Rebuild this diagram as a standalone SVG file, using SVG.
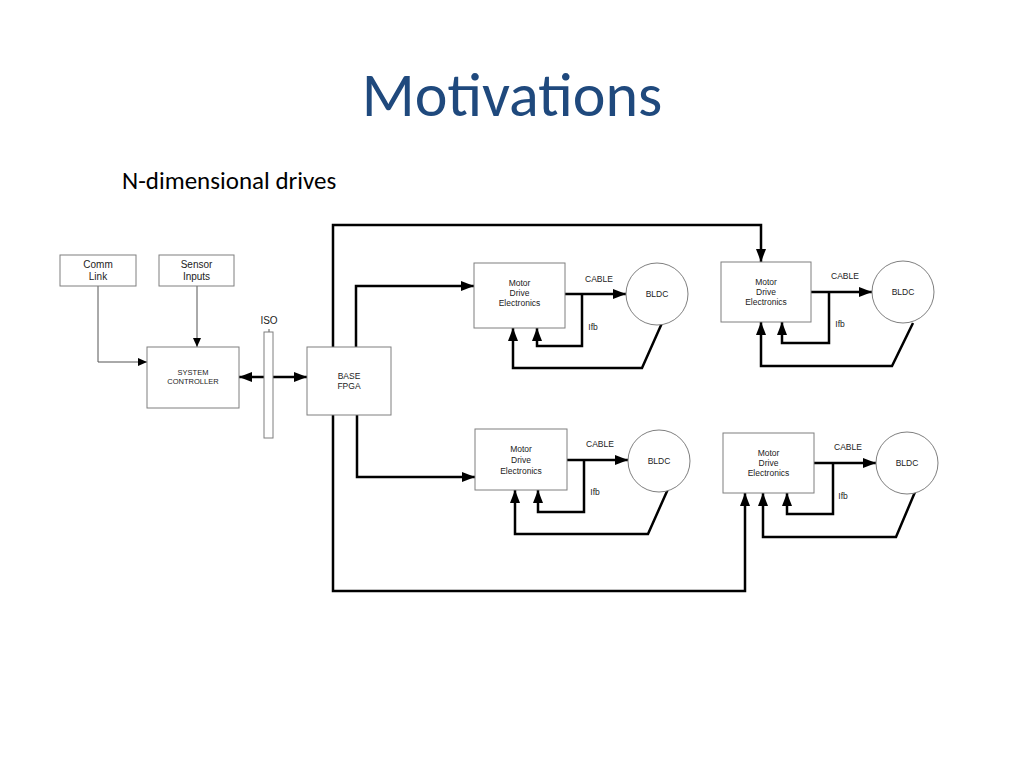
<svg xmlns="http://www.w3.org/2000/svg" width="1024" height="768" viewBox="0 0 1024 768">
<defs>
<marker id="ah" markerUnits="userSpaceOnUse" markerWidth="14" markerHeight="10" refX="13" refY="5" orient="auto-start-reverse"><path d="M0,0 L13,5 L0,10 Z" fill="#000"/></marker>
<marker id="ahs" markerUnits="userSpaceOnUse" markerWidth="10" markerHeight="8" refX="9" refY="4" orient="auto"><path d="M0,0 L9,4 L0,8 Z" fill="#000"/></marker>
</defs>
<style>
.box{fill:#fff;stroke:#7f7f7f;stroke-width:1}
.t{font-family:"Liberation Sans",Arial,sans-serif;fill:#222;text-anchor:middle}
.s9{font-size:8.5px}
.thick{fill:none;stroke:#000;stroke-width:2.5}
.thin{fill:none;stroke:#555;stroke-width:1}
</style>
<rect width="1024" height="768" fill="#fff"/>
<text x="512" y="116" font-family="Calibri,Carlito,'Liberation Sans',sans-serif" font-size="62" fill="#1F497D" text-anchor="middle">Motivations</text>
<text x="122" y="189" font-family="Calibri,Carlito,'Open Sans','Liberation Sans',sans-serif" font-size="25" fill="#000">N-dimensional drives</text>

<g id="connectors">
<path class="thin" d="M98,286 V362 H147" marker-end="url(#ahs)"/>
<path class="thin" d="M197,286 V347" marker-end="url(#ahs)"/>
<path class="thick" d="M239,377 H307" marker-start="url(#ah)" marker-end="url(#ah)"/>
<path class="thin" d="M269,329 V332"/>
<path class="thick" d="M333,347 V225 H761 V262" marker-end="url(#ah)"/>
<path class="thick" d="M356,347 V286 H474" marker-end="url(#ah)"/>
<path class="thick" d="M357,415 V477 H475" marker-end="url(#ah)"/>
<path class="thick" d="M333,415 V591 H745 V493" marker-end="url(#ah)"/>
<path class="thick" d="M565,294 H626" marker-end="url(#ah)"/>
<path class="thick" d="M582,294 V346 H537 V328" marker-end="url(#ah)"/>
<path class="thick" d="M662,323 L642,368 H513 V328" marker-end="url(#ah)"/>
<path class="thick" d="M811,292 H872" marker-end="url(#ah)"/>
<path class="thick" d="M829,292 V343 H782 V322" marker-end="url(#ah)"/>
<path class="thick" d="M913,323 L892,366 H761 V322" marker-end="url(#ah)"/>
<path class="thick" d="M567,460 H628" marker-end="url(#ah)"/>
<path class="thick" d="M584,460 V512 H538 V490" marker-end="url(#ah)"/>
<path class="thick" d="M668,489 L648,534 H515 V490" marker-end="url(#ah)"/>
<path class="thick" d="M814,463 H876" marker-end="url(#ah)"/>
<path class="thick" d="M833,463 V514 H787 V493" marker-end="url(#ah)"/>
<path class="thick" d="M915,492 L896,537 H763 V493" marker-end="url(#ah)"/>
</g>

<g id="comm-link"><rect class="box" x="60" y="255" width="76" height="31"/><text class="t" x="98" y="268" font-size="10">Comm</text><text class="t" x="98" y="280" font-size="10">Link</text></g>
<g id="sensor-inputs"><rect class="box" x="159" y="255" width="75" height="31"/><text class="t" x="196.5" y="268" font-size="10">Sensor</text><text class="t" x="196.5" y="280" font-size="10">Inputs</text></g>
<g id="system-controller"><rect class="box" x="147" y="347" width="92" height="61"/><text class="t" x="193" y="375" font-size="7.5">SYSTEM</text><text class="t" x="193" y="384" font-size="7.5">CONTROLLER</text></g>
<g id="iso"><rect class="box" x="264" y="332" width="9" height="106"/><text class="t" x="269" y="324" font-size="10">ISO</text></g>
<g id="base-fpga"><rect class="box" x="307" y="347" width="84" height="68"/><text class="t" x="349" y="379" font-size="8.5">BASE</text><text class="t" x="349" y="389" font-size="8.5">FPGA</text></g>

<g id="mde1"><rect class="box" x="474" y="263" width="91" height="65"/><text class="t s9" x="519.5" y="286">Motor</text><text class="t s9" x="519.5" y="296">Drive</text><text class="t s9" x="519.5" y="306">Electronics</text><text class="t s9" x="599" y="282">CABLE</text><text class="t s9" x="593" y="330">Ifb</text></g>
<g id="bldc1"><circle cx="657" cy="294" r="31" fill="#fff" stroke="#7f7f7f"/><text class="t s9" x="657" y="297">BLDC</text></g>

<g id="mde3"><rect class="box" x="721" y="262" width="90" height="60"/><text class="t s9" x="766" y="285">Motor</text><text class="t s9" x="766" y="295">Drive</text><text class="t s9" x="766" y="305">Electronics</text><text class="t s9" x="845" y="279">CABLE</text><text class="t s9" x="840" y="327">Ifb</text></g>
<g id="bldc3"><circle cx="903" cy="292" r="31" fill="#fff" stroke="#7f7f7f"/><text class="t s9" x="903" y="295">BLDC</text></g>

<g id="mde2"><rect class="box" x="475" y="429" width="92" height="61"/><text class="t s9" x="521" y="452">Motor</text><text class="t s9" x="521" y="463">Drive</text><text class="t s9" x="521" y="474">Electronics</text><text class="t s9" x="600" y="447">CABLE</text><text class="t s9" x="595" y="495">Ifb</text></g>
<g id="bldc2"><circle cx="659" cy="461" r="31" fill="#fff" stroke="#7f7f7f"/><text class="t s9" x="659" y="464">BLDC</text></g>

<g id="mde4"><rect class="box" x="723" y="433" width="91" height="60"/><text class="t s9" x="768.5" y="456">Motor</text><text class="t s9" x="768.5" y="466">Drive</text><text class="t s9" x="768.5" y="476">Electronics</text><text class="t s9" x="848" y="450">CABLE</text><text class="t s9" x="843" y="499">Ifb</text></g>
<g id="bldc4"><circle cx="907" cy="463" r="31" fill="#fff" stroke="#7f7f7f"/><text class="t s9" x="907" y="466">BLDC</text></g>
</svg>
